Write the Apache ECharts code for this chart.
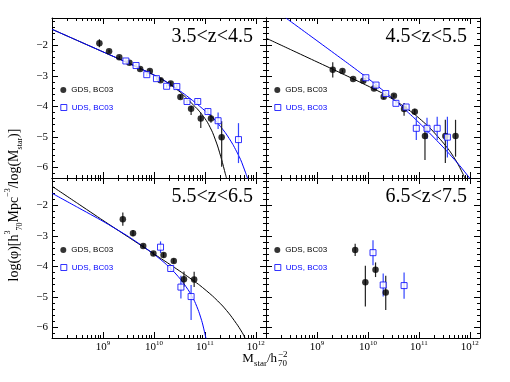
<!DOCTYPE html>
<html><head><meta charset="utf-8">
<script src="https://cdn.jsdelivr.net/npm/echarts@6/dist/echarts.min.js"></script>
<style>html,body{margin:0;padding:0;background:#fff}#c{width:510px;height:382px}</style>
</head><body><div id="c"></div>
<script>
// ---------------- DATA ----------------
const zLabels = ['3.5<z<4.5', '4.5<z<5.5', '5.5<z<6.5', '6.5<z<7.5'];
const xTickValues = [9, 10, 11, 12];          // log10(Mstar) => 10^9 ... 10^12
const yTickValues = [-6, -5, -4, -3, -2];
const legendNames = ['GDS, BC03', 'UDS, BC03'];

// points: [log10 Mstar, log10 phi, err low, err high]
const gds1 = [[8.93,-1.93,0.13,0.13],[9.12,-2.19,0.05,0.05],[9.32,-2.39,0.05,0.05],[9.52,-2.57,0.05,0.05],
  [9.73,-2.77,0.05,0.05],[9.92,-2.84,0.05,0.05],[10.13,-3.14,0.05,0.05],[10.33,-3.25,0.06,0.06],
  [10.52,-3.69,0.07,0.07],[10.73,-4.08,0.20,0.10],[10.92,-4.40,0.31,0.19],[11.12,-4.40,0.14,0.13],
  [11.33,-5.01,0.97,0.52]];
const uds1 = [[9.45,-2.51,0.05,0.05],[9.65,-2.66,0.05,0.05],[9.86,-2.96,0.05,0.05],[10.05,-3.09,0.05,0.05],
  [10.25,-3.34,0.05,0.05],[10.45,-3.35,0.06,0.06],[10.65,-3.84,0.07,0.07],[10.86,-3.84,0.08,0.08],
  [11.06,-4.17,0.10,0.10],[11.26,-4.47,0.27,0.27],[11.66,-5.09,0.77,0.54]];
const gdsFit1 = [[8.0,-1.47],[8.5,-1.84],[9.0,-2.21],[9.5,-2.58],[9.8,-2.81],[10.0,-2.97],[10.2,-3.15],
  [10.4,-3.38],[10.55,-3.58],[10.7,-3.83],[10.85,-4.08],[10.95,-4.28],[11.05,-4.52],[11.15,-4.85],
  [11.25,-5.30],[11.33,-5.75],[11.4,-6.20],[11.44,-6.45]];
const udsFit1 = [[8.0,-1.47],[8.5,-1.84],[9.0,-2.21],[9.5,-2.58],[9.8,-2.81],[10.0,-2.97],[10.2,-3.15],
  [10.4,-3.36],[10.6,-3.60],[10.8,-3.86],[11.0,-4.14],[11.2,-4.45],[11.4,-4.86],[11.55,-5.25],
  [11.7,-5.74],[11.8,-6.18],[11.85,-6.42]];

const gds2 = [[9.31,-2.80,0.25,0.25],[9.50,-2.84,0.05,0.05],[9.71,-3.10,0.05,0.05],[9.91,-3.16,0.05,0.05],
  [10.12,-3.41,0.06,0.06],[10.31,-3.68,0.08,0.08],[10.51,-3.65,0.06,0.06],[10.71,-4.09,0.22,0.20],
  [10.92,-4.18,0.10,0.10],[11.12,-4.97,0.79,0.31],[11.52,-4.97,0.89,0.53],[11.72,-4.97,0.68,0.53]];
const uds2 = [[9.96,-3.06,0.05,0.05],[10.16,-3.30,0.05,0.05],[10.35,-3.58,0.05,0.05],[10.55,-3.90,0.05,0.05],
  [10.75,-4.02,0.08,0.08],[10.95,-4.72,0.38,0.38],[11.16,-4.72,0.35,0.35],[11.36,-4.72,0.38,0.38],
  [11.56,-5.01,0.67,0.67]];
const gdsFit2 = [[8.0,-1.76],[8.5,-2.15],[9.0,-2.54],[9.5,-2.93],[10.0,-3.33],[10.3,-3.58],[10.6,-3.88],
  [10.9,-4.24],[11.2,-4.68],[11.45,-5.14],[11.6,-5.45],[11.75,-5.84],[11.85,-6.16],[11.93,-6.45]];
const udsFit2 = [[8.39,-1.10],[8.8,-1.60],[9.2,-2.09],[9.6,-2.58],[10.0,-3.08],[10.3,-3.48],[10.6,-3.91],
  [10.9,-4.37],[11.2,-4.86],[11.5,-5.38],[11.8,-5.94],[12.0,-6.36],[12.02,-6.40]];

const gds3 = [[9.39,-2.45,0.22,0.22],[9.59,-2.91,0.10,0.10],[9.79,-3.33,0.06,0.06],[9.99,-3.58,0.06,0.06],
  [10.19,-3.63,0.08,0.08],[10.39,-3.82,0.08,0.08],[10.59,-4.42,0.25,0.25],[10.79,-4.43,0.25,0.25]];
const uds3 = [[10.13,-3.37,0.19,0.19],[10.33,-4.07,0.10,0.10],[10.53,-4.68,0.37,0.37],[10.73,-4.99,0.77,0.38]];
const gdsFit3 = [[8.0,-1.37],[8.5,-1.93],[9.0,-2.49],[9.5,-3.04],[10.0,-3.59],[10.3,-3.92],[10.6,-4.26],
  [10.9,-4.62],[11.15,-4.97],[11.35,-5.30],[11.5,-5.60],[11.65,-5.95],[11.75,-6.22],[11.8,-6.40]];
const udsFit3 = [[8.0,-1.60],[8.5,-2.06],[9.0,-2.52],[9.5,-3.02],[9.8,-3.36],[10.0,-3.60],[10.2,-3.87],
  [10.4,-4.19],[10.55,-4.48],[10.7,-4.84],[10.8,-5.15],[10.88,-5.48],[10.95,-5.85],[11.0,-6.20],[11.03,-6.42]];

const gds4 = [[9.75,-3.46,0.20,0.20],[9.95,-4.52,0.80,0.54],[10.15,-4.11,0.24,0.24],[10.35,-4.86,0.57,0.55]];
const uds4 = [[10.10,-3.55,0.41,0.41],[10.30,-4.61,0.38,0.38],[10.71,-4.63,0.43,0.43]];

// ---------------- LAYOUT / STYLE ----------------
const X_MIN = 8, X_MAX = 12.2, Y_MIN = -6.35, Y_MAX = -1.1;
const SERIF = '"Liberation Serif", "DejaVu Serif", serif';
const SANS = '"Liberation Sans", "DejaVu Sans", sans-serif';
const BLUE = '#0000ff';
const panels = [
  {gds: gds1, uds: uds1, gdsFit: gdsFit1, udsFit: udsFit1, left: 52, top: 18, xLab: false, yLab: true},
  {gds: gds2, uds: uds2, gdsFit: gdsFit2, udsFit: udsFit2, left: 266, top: 18, xLab: false, yLab: false},
  {gds: gds3, uds: uds3, gdsFit: gdsFit3, udsFit: udsFit3, left: 52, top: 178, xLab: true, yLab: true},
  {gds: gds4, uds: uds4, gdsFit: null, udsFit: null, left: 266, top: 178, xLab: true, yLab: false}
];
const PW = 214, PH = 160;

const xMinor = [];
for (let n = 8; n <= 12; n++) for (let k = 2; k <= 9; k++) { const v = n + Math.log10(k); if (v < X_MAX) xMinor.push(v); }
const yMinor = [];
for (let i = -31; i <= -6; i++) if (i % 5 !== 0) yMinor.push(i / 5);

function axis(kind, gi, pos, vals, len, showLine, label) {
  const a = {
    type: 'value', gridIndex: gi, position: pos,
    min: kind === 'x' ? X_MIN : Y_MIN, max: kind === 'x' ? X_MAX : Y_MAX,
    axisLine: {show: showLine, onZero: false, lineStyle: {color: '#000', width: 1}},
    axisTick: {show: true, inside: true, length: len, customValues: vals, lineStyle: {color: '#000', width: 1}},
    axisLabel: {show: false},
    splitLine: {show: false}, minorTick: {show: false}, splitArea: {show: false}
  };
  if (label) a.axisLabel = label;
  return a;
}
const xLabel = {
  show: true, customValues: xTickValues, margin: 2,
  formatter: v => '{b|10}{s|' + v + '}',
  rich: {
    b: {fontSize: 11, fontFamily: SERIF, color: '#000', lineHeight: 14},
    s: {fontSize: 7, fontFamily: SERIF, color: '#000', verticalAlign: 'top', lineHeight: 7}
  }
};
const yLabel = {
  show: true, customValues: yTickValues, margin: 4, color: '#000',
  fontSize: 11, fontFamily: SERIF,
  formatter: v => '\u2212' + Math.abs(v)
};

const grids = [], xAxes = [], yAxes = [], series = [], legends = [], graphics = [];
panels.forEach((p, gi) => {
  grids.push({left: p.left, top: p.top, width: PW, height: PH, containLabel: false, outerBoundsMode: 'none'});
  xAxes.push(axis('x', gi, 'bottom', xTickValues, 6, true, p.xLab ? xLabel : null));
  xAxes.push(axis('x', gi, 'bottom', xMinor, 3, false, null));
  xAxes.push(axis('x', gi, 'top', xTickValues, 6, true, null));
  xAxes.push(axis('x', gi, 'top', xMinor, 3, false, null));
  yAxes.push(axis('y', gi, 'left', yTickValues, 6, true, p.yLab ? yLabel : null));
  yAxes.push(axis('y', gi, 'left', yMinor, 3, false, null));
  yAxes.push(axis('y', gi, 'right', yTickValues, 6, true, null));
  yAxes.push(axis('y', gi, 'right', yMinor, 3, false, null));
  const xi = gi * 4, yi = gi * 4;
  if (p.gdsFit) series.push({type: 'line', xAxisIndex: xi, yAxisIndex: yi, data: p.gdsFit, showSymbol: false,
    smooth: 0.2, lineStyle: {color: '#000', width: 1}, silent: true, z: 1});
  if (p.udsFit) series.push({type: 'line', xAxisIndex: xi, yAxisIndex: yi, data: p.udsFit, showSymbol: false,
    smooth: 0.2, lineStyle: {color: BLUE, width: 1}, silent: true, z: 1});
  [[p.gds, '#222'], [p.uds, '#3344ff']].forEach(([d, col]) => {
    series.push({type: 'custom', xAxisIndex: xi, yAxisIndex: yi, data: d, encode: {x: 0, y: 1}, z: 2, silent: true,
      renderItem: (params, api) => {
        const x = api.value(0), y = api.value(1), lo = api.value(2), hi = api.value(3);
        const a = api.coord([x, y + hi]), b = api.coord([x, y - lo]);
        return {type: 'line', shape: {x1: a[0], y1: a[1], x2: b[0], y2: b[1]}, style: {stroke: col, lineWidth: 1.2}};
      }});
  });
  series.push({type: 'scatter', name: legendNames[0], xAxisIndex: xi, yAxisIndex: yi, z: 3,
    data: p.gds.map(r => [r[0], r[1]]), symbol: 'circle', symbolSize: 6.5, itemStyle: {color: '#000'}});
  series.push({type: 'scatter', name: legendNames[1], xAxisIndex: xi, yAxisIndex: yi, z: 3,
    data: p.uds.map(r => [r[0], r[1]]), symbol: 'rect', symbolSize: 6,
    itemStyle: {color: '#fff', borderColor: BLUE, borderWidth: 1}});
  const lx = p.left + 8.3;
  legends.push({data: [{name: legendNames[0], icon: 'circle', itemStyle: {color: '#000', borderWidth: 0}}],
    left: lx, top: p.top + 68, padding: 0, itemWidth: 6, itemHeight: 6, selectedMode: false,
    textStyle: {fontSize: 8, fontFamily: SANS, color: '#000'}});
  legends.push({data: [{name: legendNames[1], icon: 'rect', itemStyle: {color: '#fff', borderColor: BLUE, borderWidth: 1}}],
    left: lx, top: p.top + 85.5, padding: 0, itemWidth: 6, itemHeight: 6, selectedMode: false,
    textStyle: {fontSize: 8, fontFamily: SANS, color: BLUE}});
  graphics.push({type: 'text', x: p.left + PW - 13, y: p.top + 19,
    style: {text: zLabels[gi], fill: '#000', font: '20px ' + SERIF, align: 'right', verticalAlign: 'middle'}});
});

// axis titles
graphics.push({type: 'text', x: 14, y: 205, rotation: Math.PI / 2,
  style: {text: '{m|log(\u03c6)[h}{sp|3}{sb|70}{m|Mpc}{sp|\u22123}{m|/log(M}{sb|star}{m|)]}',
    align: 'center', verticalAlign: 'middle', fill: '#000',
    rich: {
      m: {fontSize: 14, fontFamily: SERIF, fill: '#000', lineHeight: 20},
      sp: {fontSize: 8, fontFamily: SERIF, fill: '#000', verticalAlign: 'top', lineHeight: 10},
      sb: {fontSize: 8, fontFamily: SERIF, fill: '#000', verticalAlign: 'bottom', lineHeight: 10}
    }}});
graphics.push({type: 'text', x: 277, y: 359,
  style: {text: '{m|M}{sb|star}{m|/h}', align: 'right', verticalAlign: 'middle', fill: '#000',
    rich: {
      m: {fontSize: 13, fontFamily: SERIF, fill: '#000', lineHeight: 19},
      sb: {fontSize: 9, fontFamily: SERIF, fill: '#000', verticalAlign: 'bottom', lineHeight: 10}
    }}});
graphics.push({type: 'text', x: 278, y: 355,
  style: {text: '\u22122', align: 'left', verticalAlign: 'middle', fill: '#000', font: '9px ' + SERIF}});
graphics.push({type: 'text', x: 278, y: 363.5,
  style: {text: '70', align: 'left', verticalAlign: 'middle', fill: '#000', font: '9px ' + SERIF}});

const chart = echarts.init(document.getElementById('c'), null, {renderer: 'canvas'});
chart.setOption({
  animation: false, backgroundColor: '#fff',
  grid: grids, xAxis: xAxes, yAxis: yAxes, series: series, legend: legends, graphic: graphics,
  tooltip: {show: false}
});
</script></body></html>
